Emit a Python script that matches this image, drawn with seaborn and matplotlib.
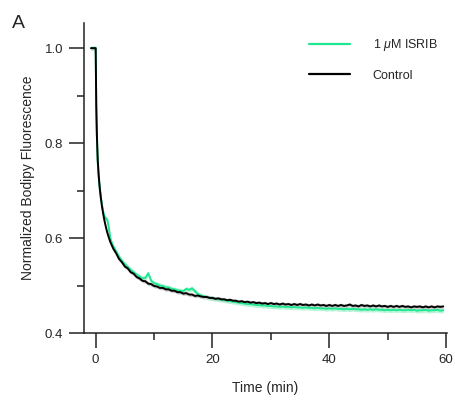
import numpy as np
import pandas as pd
import seaborn as sns
import matplotlib.pyplot as plt
from matplotlib.ticker import MultipleLocator

# tiempos (min)
time = [-0.8, -0.4, 0.0, 0.1, 0.2, 0.35, 0.5, 0.7, 0.9, 1.1, 1.3, 1.5, 1.75, 2.0, 2.25, 2.5, 2.75,
        3.0, 3.5, 4.0, 4.5, 5.0, 5.5, 6.0, 6.5, 7.0, 7.5, 8.0, 8.5, 9.0, 9.5,
        10.0, 10.5, 11.0, 11.5, 12.0, 12.5, 13.0, 13.5, 14.0, 14.5, 15.0, 15.5, 16.0, 16.5, 17.0, 17.5, 18.0, 18.5, 19.0, 19.5,
        20.0, 20.5, 21.0, 21.5, 22.0, 22.5, 23.0, 23.5, 24.0, 24.5, 25.0, 25.5, 26.0, 26.5, 27.0, 27.5, 28.0, 28.5, 29.0, 29.5,
        30.0, 30.5, 31.0, 31.5, 32.0, 32.5, 33.0, 33.5, 34.0, 34.5, 35.0, 35.5, 36.0, 36.5, 37.0, 37.5, 38.0, 38.5, 39.0, 39.5,
        40.0, 40.5, 41.0, 41.5, 42.0, 42.5, 43.0, 43.5, 44.0, 44.5, 45.0, 45.5, 46.0, 46.5, 47.0, 47.5, 48.0, 48.5, 49.0, 49.5,
        50.0, 50.5, 51.0, 51.5, 52.0, 52.5, 53.0, 53.5, 54.0, 54.5, 55.0, 55.5, 56.0, 56.5, 57.0, 57.5, 58.0, 58.5, 59.0, 59.5]

control = [1.0, 1.0, 1.0, 0.88, 0.82, 0.765, 0.735, 0.705, 0.683, 0.665, 0.650, 0.637, 0.623, 0.611, 0.601, 0.592, 0.585,
           0.578, 0.568, 0.556, 0.549, 0.540, 0.536, 0.528, 0.525, 0.518, 0.515, 0.510, 0.509, 0.504, 0.503,
           0.499, 0.498, 0.495, 0.495, 0.492, 0.492, 0.489, 0.489, 0.486, 0.486, 0.483, 0.484, 0.481, 0.481, 0.478, 0.479, 0.477, 0.476, 0.476, 0.474,
           0.474, 0.472, 0.473, 0.471, 0.471, 0.469, 0.470, 0.468, 0.468, 0.466, 0.467, 0.465, 0.466, 0.464, 0.465, 0.463, 0.464, 0.462, 0.463, 0.461,
           0.463, 0.461, 0.462, 0.460, 0.462, 0.460, 0.461, 0.459, 0.461, 0.459, 0.461, 0.459, 0.460, 0.458, 0.460, 0.458, 0.460, 0.458, 0.459, 0.457,
           0.459, 0.457, 0.459, 0.457, 0.459, 0.457, 0.458, 0.460, 0.457, 0.458, 0.456, 0.459, 0.457, 0.458, 0.456, 0.458, 0.456, 0.458, 0.456, 0.457,
           0.455, 0.457, 0.455, 0.457, 0.455, 0.457, 0.455, 0.456, 0.454, 0.456, 0.455, 0.456, 0.454, 0.456, 0.454, 0.456, 0.454, 0.456, 0.455, 0.456]

isrib = [1.0, 1.0, 1.0, 0.875, 0.815, 0.76, 0.73, 0.705, 0.685, 0.668, 0.655, 0.645, 0.642, 0.638, 0.622, 0.600, 0.590,
         0.583, 0.572, 0.561, 0.552, 0.545, 0.539, 0.533, 0.528, 0.523, 0.519, 0.515, 0.516, 0.526, 0.510,
         0.505, 0.503, 0.500, 0.499, 0.496, 0.496, 0.493, 0.492, 0.490, 0.489, 0.488, 0.493, 0.491, 0.494, 0.488, 0.482, 0.479, 0.477, 0.476, 0.474,
         0.473, 0.472, 0.471, 0.470, 0.469, 0.468, 0.467, 0.466, 0.465, 0.464, 0.463, 0.462, 0.461, 0.461, 0.460, 0.459, 0.459, 0.458, 0.458, 0.457,
         0.457, 0.456, 0.456, 0.455, 0.456, 0.455, 0.455, 0.454, 0.455, 0.454, 0.454, 0.453, 0.454, 0.453, 0.453, 0.452, 0.453, 0.452, 0.452, 0.451,
         0.452, 0.451, 0.452, 0.451, 0.451, 0.450, 0.451, 0.450, 0.451, 0.450, 0.450, 0.449, 0.450, 0.449, 0.450, 0.449, 0.450, 0.449, 0.449, 0.448,
         0.449, 0.448, 0.449, 0.448, 0.449, 0.448, 0.448, 0.449, 0.448, 0.449, 0.447, 0.448, 0.448, 0.449, 0.447, 0.448, 0.448, 0.449, 0.447, 0.448]

# error estandar aproximado (banda sombreada)
control_sem = 0.004
isrib_sem = 0.005

labels = ['1 $\\mu$M ISRIB', 'Control']
colors = ['#1ee88f', '#000000']
band_colors = ['#b8f5d8', '#cfcfcf']

sns.set_theme(style="ticks")
plt.rcParams['font.family'] = ['Liberation Sans', 'DejaVu Sans']
plt.rcParams['mathtext.fontset'] = 'custom'
plt.rcParams['mathtext.it'] = 'Liberation Sans:italic'
plt.rcParams['mathtext.rm'] = 'Liberation Sans'

df = pd.concat([
    pd.DataFrame({'Time': time, 'Valor': isrib, 'Grupo': labels[0]}),
    pd.DataFrame({'Time': time, 'Valor': control, 'Grupo': labels[1]}),
])

fig = plt.figure(figsize=(4.56, 4.04), dpi=100)
ax = fig.add_axes([0.1842, 0.1757, 0.7961, 0.7674])

t = np.array(time)
for vals, sem, bc in [(isrib, isrib_sem, band_colors[0]), (control, control_sem, band_colors[1])]:
    v = np.array(vals)
    ax.fill_between(t, v - sem, v + sem, color=bc, lw=0, zorder=1)

sns.lineplot(data=df, x='Time', y='Valor', hue='Grupo', palette=dict(zip(labels, colors)),
             hue_order=labels, errorbar=None, lw=1.4, ax=ax, zorder=2)

ax.set_xlim(-2.0, 60.15)
ax.set_ylim(0.4, 1.053)
ax.xaxis.set_major_locator(MultipleLocator(20))
ax.xaxis.set_minor_locator(MultipleLocator(10))
ax.yaxis.set_major_locator(MultipleLocator(0.2))
ax.yaxis.set_minor_locator(MultipleLocator(0.1))
ax.tick_params(which='major', length=11, width=1.1, labelsize=9.5, pad=4, color='#222222')
ax.tick_params(which='minor', length=5, width=1.1, color='#222222')
for s in ['left', 'bottom']:
    ax.spines[s].set_linewidth(1.1)
    ax.spines[s].set_color('#222222')
sns.despine(ax=ax)

ax.set_xlabel('Time (min)', fontsize=10, labelpad=11)
ax.set_ylabel('Normalized Bodipy Fluorescence', fontsize=10, labelpad=7)

leg = ax.legend(frameon=False, loc='upper left', bbox_to_anchor=(0.62, 0.955),
                fontsize=9, handlelength=3.3, handletextpad=1.8, labelspacing=1.35,
                borderaxespad=0, borderpad=0)
for line in leg.get_lines():
    line.set_linewidth(1.6)

fig.text(12 / 456, 1 - 28 / 404, 'A', fontsize=14)

plt.savefig('out.png', dpi=100)
plt.close()
